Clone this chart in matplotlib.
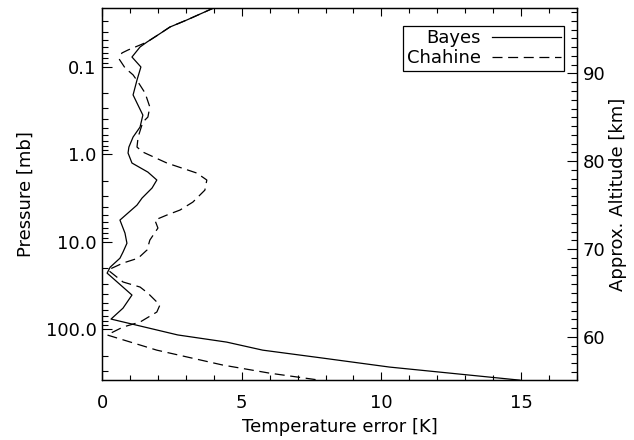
import numpy as np
import matplotlib
matplotlib.use('Agg')
import matplotlib.pyplot as plt
from matplotlib.ticker import MultipleLocator, FixedLocator, FuncFormatter, LogLocator, NullFormatter

# temperature error profiles
bayes_err = [4.0, 3.04, 2.43, 2.0, 1.61, 1.36, 1.07, 1.39, 1.25, 1.11, 1.25, 1.46,
             1.36, 1.11, 0.96, 0.93, 1.07, 1.64, 1.96, 1.79, 1.43, 1.25, 0.64, 0.82,
             0.89, 0.75, 0.64, 0.29, 0.18, 1.07, 0.75, 0.32, 2.71, 4.46, 5.75, 7.89,
             10.29, 14.96]
bayes_p = [0.0213, 0.0292, 0.0352, 0.0434, 0.0522, 0.0595, 0.0775, 0.1007, 0.142,
           0.210, 0.260, 0.357, 0.489, 0.636, 0.828, 0.969, 1.26, 1.60, 1.97, 2.43,
           3.17, 3.81, 5.65, 7.96, 10.4, 13.1, 15.4, 19.5, 22.8, 40.6, 57.3, 76.4,
           116, 140, 173, 213, 270, 381]

chahine_err = [4.0, 3.04, 2.43, 2.0, 1.61, 1.36, 0.93, 0.71, 0.61, 0.82, 1.11, 1.29,
               1.54, 1.71, 1.64, 1.46, 1.29, 1.25, 1.46, 2.32, 3.39, 3.75, 3.68, 3.25,
               2.79, 2.32, 1.89, 2.0, 1.71, 1.61, 1.29, 0.75, 0.21, 0.75, 1.36, 1.64,
               2.07, 1.96, 1.36, 0.75, 0.18, 1.96, 4.32, 6.0, 7.79]
chahine_p = [0.0213, 0.0292, 0.0352, 0.0434, 0.0522, 0.0565, 0.0644, 0.0697, 0.0816,
             0.103, 0.124, 0.150, 0.200, 0.289, 0.376, 0.429, 0.636, 0.828, 0.944,
             1.26, 1.64, 1.97, 2.57, 3.52, 4.34, 4.95, 5.65, 6.97, 9.57, 12.4, 15.4,
             17.5, 21.0, 28.8, 32.9, 38.6, 52.8, 63.5, 82.6, 94.2, 116, 173, 256,
             317, 381]

p_range = [381, 0.0213]
x_range = [0, 17]


def p_to_km(p):
    # rough altitude from pressure, about 10 km per decade
    return 80.8 - 9.97 * np.log10(p)


plt.rcParams['font.family'] = 'DejaVu Sans'
plt.rcParams['font.size'] = 13

fig = plt.figure(figsize=(6.34, 4.40), dpi=100)
ax = fig.add_axes([0.161, 0.136, 0.749, 0.846])

ax.plot(bayes_err, bayes_p, color='black', lw=0.9, label='Bayes')
ax.plot(chahine_err, chahine_p, color='black', lw=0.9, linestyle=(0, (8, 4.5)),
        label='Chahine')

ax.set_yscale('log')
ax.set_ylim(p_range)
ax.set_xlim(x_range)

ax.yaxis.set_major_locator(FixedLocator([0.1, 1.0, 10.0, 100.0]))
ax.yaxis.set_major_formatter(FuncFormatter(lambda v, pos: '%.1f' % v))
ax.yaxis.set_minor_locator(LogLocator(base=10, subs=np.arange(2, 10)))
ax.yaxis.set_minor_formatter(NullFormatter())

ax.xaxis.set_major_locator(MultipleLocator(5))
ax.xaxis.set_minor_locator(MultipleLocator(1))

ax.tick_params(axis='x', which='both', direction='in', top=True, pad=10)
ax.tick_params(axis='x', which='major', length=6, width=0.8)
ax.tick_params(axis='x', which='minor', length=3.5, width=0.8)
ax.tick_params(axis='y', which='both', direction='in', right=False, pad=4)
ax.tick_params(axis='y', which='major', length=7, width=0.8)
ax.tick_params(axis='y', which='minor', length=4.5, width=0.8)

ax.set_xlabel('Temperature error [K]', labelpad=4)
ax.set_ylabel('Pressure [mb]', labelpad=8)

ax2 = ax.twinx()
ax2.set_ylim(p_to_km(p_range[0]), p_to_km(p_range[1]))
ax2.yaxis.set_major_locator(MultipleLocator(10))
ax2.yaxis.set_minor_locator(MultipleLocator(1))
ax2.tick_params(axis='y', which='both', direction='in', pad=4)
ax2.tick_params(axis='y', which='major', length=7, width=0.8)
ax2.tick_params(axis='y', which='minor', length=4, width=0.8)
ax2.set_ylabel('Approx. Altitude [km]', labelpad=3)

for a in (ax, ax2):
    for s in a.spines.values():
        s.set_linewidth(0.9)

leg = ax.legend(loc='upper right', bbox_to_anchor=(0.973, 0.952), borderaxespad=0,
                markerfirst=False, handlelength=3.8, fancybox=False,
                edgecolor='black', framealpha=1, borderpad=0.2, labelspacing=0.1,
                handletextpad=0.6)
leg.get_frame().set_linewidth(0.9)

fig.savefig('out.png', dpi=100)
